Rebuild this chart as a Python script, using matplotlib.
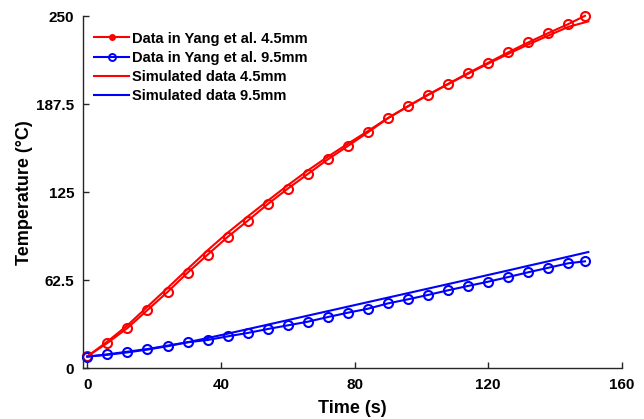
import matplotlib
matplotlib.use("Agg")
import matplotlib.pyplot as plt
from matplotlib.lines import Line2D

plt.rcParams['font.family'] = ['Liberation Sans', 'DejaVu Sans']
plt.rcParams['font.weight'] = 'bold'

# Experimental data (Yang et al.)
t_data = [0, 6, 12, 18, 24, 30, 36, 42, 48, 54, 60, 66, 72, 78, 84, 90, 96,
          102, 108, 114, 120, 126, 132, 138, 144, 149]
yang_45 = [8.5, 18.0, 28.6, 41.4, 54.2, 67.9, 80.7, 93.3, 104.8, 116.6, 127.6,
           138.0, 148.4, 157.9, 167.6, 177.6, 186.0, 194.3, 202.0, 209.7, 217.0,
           224.4, 231.5, 238.1, 244.5, 250.4]
yang_95 = [8.3, 9.9, 11.8, 13.7, 16.1, 18.5, 20.1, 22.7, 25.1, 27.9, 30.5,
           33.1, 36.4, 39.5, 42.3, 46.1, 49.0, 52.1, 55.4, 58.5, 61.5, 64.8,
           68.2, 71.4, 74.6, 76.0]

# Simulated data
t_sim = [0, 6, 12, 18, 24, 30, 36, 42, 48, 54, 60, 66, 72, 78, 84, 90, 96,
         102, 108, 114, 120, 126, 132, 138, 144, 150]
sim_45 = [8.5, 19.0, 30.5, 43.8, 57.0, 70.5, 83.8, 96.3, 107.8, 119.0, 130.0,
          140.5, 150.3, 159.5, 168.5, 177.8, 186.2, 194.2, 201.8, 209.2, 216.4,
          223.3, 230.0, 236.3, 242.5, 246.4]
sim_95 = [8.3, 9.6, 11.3, 13.3, 15.7, 18.5, 21.5, 24.6, 27.8, 31.0, 34.2,
          37.4, 40.6, 43.8, 47.0, 50.2, 53.4, 56.6, 59.8, 63.0, 66.3, 69.5,
          72.8, 76.0, 79.3, 82.6]

labels = ['Data in Yang et al. 4.5mm', 'Data in Yang et al. 9.5mm',
          'Simulated data 4.5mm', 'Simulated data 9.5mm']
xticks = [0, 40, 80, 120, 160]
yticks = [0, 62.5, 125, 187.5, 250]
yticklabels = ['0', '62.5', '125', '187.5', '250']

fig = plt.figure(figsize=(6.44, 4.19), dpi=100)
ax = fig.add_axes([0.1284, 0.121, 0.8370, 0.840])

lw = 1.5
ax.plot(t_data, yang_45, color='red', lw=lw, marker='o', ms=6.5,
        mfc='none', mew=1.5, clip_on=False)
ax.plot(t_data, yang_95, color='blue', lw=lw, marker='o', ms=6.5,
        mfc='none', mew=1.5, clip_on=False)
ax.plot(t_sim, sim_45, color='red', lw=lw, clip_on=False)
ax.plot(t_sim, sim_95, color='blue', lw=lw, clip_on=False)

ax.set_xlim(-1.4, 160)
ax.set_ylim(0, 250)
ax.set_xticks(xticks)
ax.set_yticks(yticks)
ax.set_yticklabels(yticklabels)
for s in ['top', 'right']:
    ax.spines[s].set_visible(False)
for s in ['left', 'bottom']:
    ax.spines[s].set_color('#262626')
    ax.spines[s].set_linewidth(1.0)
ax.tick_params(direction='in', length=4, width=1.0, color='#262626',
               labelsize=11)
ax.tick_params(axis='x', pad=7)
ax.tick_params(axis='y', pad=6)
for lab in ax.get_xticklabels() + ax.get_yticklabels():
    lab.set_fontweight('bold')

ax.set_xlabel('Time (s)', fontsize=13, fontweight='bold', labelpad=6)
ax.set_ylabel('Temperature (\u00b0C)', fontsize=13, fontweight='bold', labelpad=2)

handles = [
    Line2D([], [], color='red', lw=lw, marker='.', ms=8),
    Line2D([], [], color='blue', lw=lw, marker='o', ms=5, mfc='none', mew=1.4),
    Line2D([], [], color='red', lw=lw),
    Line2D([], [], color='blue', lw=lw),
]
leg = ax.legend(handles, labels, loc='upper left', frameon=False,
                prop={'size': 10.5, 'weight': 'bold'},
                bbox_to_anchor=(0.0, 0.99), handlelength=2.4,
                handletextpad=0.2, labelspacing=0.36, borderaxespad=0.4)

fig.savefig('out.png', dpi=100)
